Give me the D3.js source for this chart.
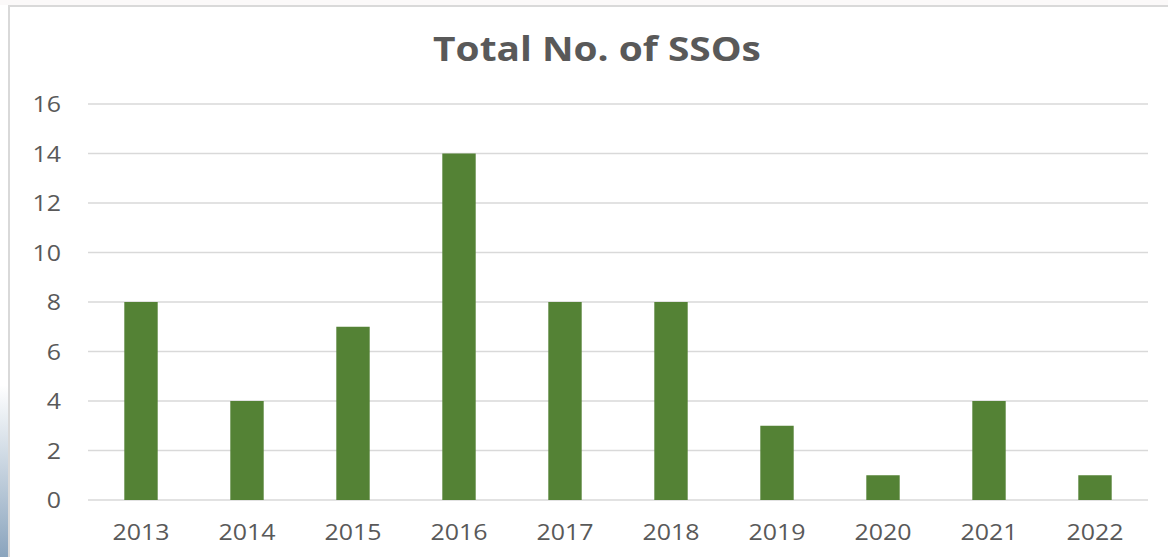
<!DOCTYPE html>
<html>
<head>
<meta charset="utf-8">
<script src="https://cdn.jsdelivr.net/npm/d3@7"></script>
<style>
  html, body { margin: 0; padding: 0; background: #ffffff; }
  svg { display: block; }
  text { font-family: "Open Sans", "Noto Sans", sans-serif; }
</style>
</head>
<body>
<svg id="chart" width="1168" height="557"></svg>
<script>
const years = ["2013","2014","2015","2016","2017","2018","2019","2020","2021","2022"];
const ssoCounts = [8, 4, 7, 14, 8, 8, 3, 1, 4, 1];
const yTicks = [0, 2, 4, 6, 8, 10, 12, 14, 16];
const chartTitle = "Total No. of SSOs";

const W = 1168, H = 557;
const svg = d3.select("#chart");
const SX = 1.16;

// background strip above top border
svg.append("rect").attr("x", 0).attr("y", 0).attr("width", W).attr("height", 5).attr("fill", "#fbf9f9");

// left gradient strip
const defs = svg.append("defs");
const grad = defs.append("linearGradient").attr("id", "leftgrad").attr("x1", 0).attr("y1", 0).attr("x2", 0).attr("y2", 1);
grad.append("stop").attr("offset", "0%").attr("stop-color", "#ffffff");
grad.append("stop").attr("offset", "100%").attr("stop-color", "#8aa4bd");
svg.append("rect").attr("x", 0).attr("y", 385).attr("width", 8).attr("height", H - 385).attr("fill", "url(#leftgrad)");

// chart border
svg.append("rect").attr("x", 9).attr("y", 6).attr("width", W + 10).attr("height", H + 10)
  .attr("fill", "#ffffff").attr("stroke", "#d9d9d9").attr("stroke-width", 2);

const plot = { left: 88, right: 1148, top: 104, bottom: 500 };

const x = d3.scaleBand().domain(years).range([plot.left, plot.right]).padding(0);
const y = d3.scaleLinear().domain([0, 16]).range([plot.bottom, plot.top]);

// gridlines
svg.append("g").selectAll("line").data(yTicks).join("line")
  .attr("x1", plot.left).attr("x2", plot.right)
  .attr("y1", d => y(d)).attr("y2", d => y(d))
  .attr("stroke", "#d9d9d9").attr("stroke-width", 1.5);

// bars
const barW = x.bandwidth() * 0.315;
svg.append("g").selectAll("rect").data(years).join("rect")
  .attr("x", d => x(d) + x.bandwidth() / 2 - barW / 2)
  .attr("y", (d, i) => y(ssoCounts[i]))
  .attr("width", barW)
  .attr("height", (d, i) => y(0) - y(ssoCounts[i]))
  .attr("fill", "#548235");

// y labels
svg.append("g").selectAll("text").data(yTicks).join("text")
  .attr("transform", d => `translate(61,${y(d) + 8}) scale(${SX},1)`)
  .attr("text-anchor", "end")
  .attr("font-size", 21.5)
  .attr("fill", "#595959")
  .text(d => d);

// x labels
svg.append("g").selectAll("text").data(years).join("text")
  .attr("transform", d => `translate(${x(d) + x.bandwidth() / 2},540) scale(${SX},1)`)
  .attr("text-anchor", "middle")
  .attr("font-size", 21.5)
  .attr("fill", "#595959")
  .text(d => d);

// title
svg.append("text")
  .attr("transform", `translate(597,61) scale(${SX},1)`)
  .attr("text-anchor", "middle")
  .attr("font-size", 33.5)
  .attr("font-weight", "bold")
  .attr("fill", "#595959")
  .text(chartTitle);
</script>
</body>
</html>
